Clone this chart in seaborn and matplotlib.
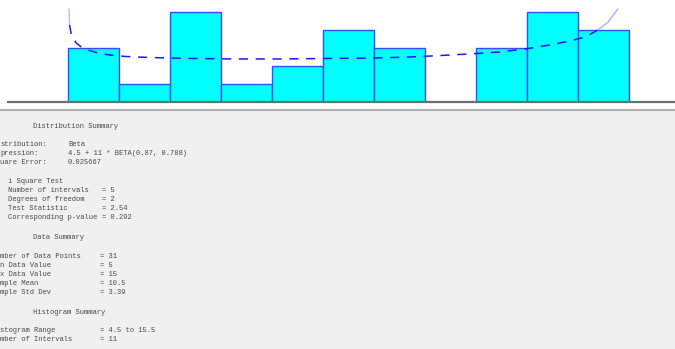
import numpy as np
import matplotlib
matplotlib.use("Agg")
import matplotlib.pyplot as plt
import seaborn as sns

# Histogram data (value of each interval and its count)
bin_centers = [5, 6, 7, 8, 9, 10, 11, 12, 13, 14, 15]
counts = [3, 1, 5, 1, 2, 4, 3, 0, 3, 5, 4]
bin_edges = [4.5, 5.5, 6.5, 7.5, 8.5, 9.5, 10.5, 11.5, 12.5, 13.5, 14.5, 15.5]

# Fitted beta curve (in counts per interval)
curve_x = [4.52, 4.53, 4.56, 4.60, 4.66, 4.76, 4.89, 5.09, 5.32, 5.62, 6.11,
           6.89, 7.78, 8.66, 9.64, 10.42, 11.21, 11.79, 12.38, 12.97, 13.52,
           13.99, 14.34, 14.64, 14.89, 15.09, 15.28]
curve_y = [5.17, 4.28, 3.83, 3.56, 3.28, 3.06, 2.89, 2.72, 2.61, 2.53, 2.47,
           2.42, 2.39, 2.39, 2.42, 2.44, 2.50, 2.58, 2.67, 2.78, 2.97,
           3.19, 3.39, 3.61, 4.00, 4.44, 5.17]

# Summary text (left part is cut off in the original window)
summary_titles = ["Distribution Summary", "Data Summary", "Histogram Summary"]
dist_labels = ["stribution:", "pression:", "uare Error:"]
dist_values = ["Beta", "4.5 + 11 * BETA(0.87, 0.788)", "0.025667"]
chi_title = "i Square Test"
chi_labels = ["Number of intervals", "Degrees of freedom", "Test Statistic",
              "Corresponding p-value"]
chi_values = ["= 5", "= 2", "= 2.54", "= 0.292"]
data_labels = ["mber of Data Points", "n Data Value", "x Data Value",
               "mple Mean", "mple Std Dev"]
data_values = ["= 31", "= 5", "= 15", "= 10.5", "= 3.39"]
hist_labels = ["stogram Range", "mber of Intervals"]
hist_values = ["= 4.5 to 15.5", "= 11"]

sns.set_style("white")
W, H = 675, 349
fig = plt.figure(figsize=(W / 100, H / 100), dpi=100)
fig.patch.set_facecolor("white")

# ---- histogram part ----
ax = fig.add_axes([8 / W, 1 - 102 / H, 667 / W, 102 / H])
sns.histplot(x=bin_centers, weights=counts, bins=bin_edges, ax=ax,
             color="#00ffff", alpha=1, edgecolor="#3a4cff", linewidth=1)

# faded ends of the curve, then the dashed main part
ax.plot(curve_x[:2], curve_y[:2], color="#b8b8ff", lw=1, zorder=3)
ax.plot(curve_x[-3:], curve_y[-3:], color="#b8b8ff", lw=1.2, zorder=3)
sns.lineplot(x=curve_x[1:-2], y=curve_y[1:-2], ax=ax, color="#1a1aff",
             lw=1.1, linestyle=(0, (6, 5)), sort=False, zorder=4)

ax.set_xlim(4.5 - 60 / 51, 4.5 - 60 / 51 + 667 / 51)
ax.set_ylim(0, 102 / 18)
ax.set_xticks([])
ax.set_yticks([])
ax.set_xlabel("")
ax.set_ylabel("")
for s in ["top", "left", "right"]:
    ax.spines[s].set_visible(False)
ax.spines["bottom"].set_color("#6e6e6e")
ax.spines["bottom"].set_linewidth(1.6)

# ---- text panel ----
top = 110
panel = fig.add_axes([0, 0, 1, (H - top) / H])
panel.set_facecolor("#f0f0f0")
panel.set_xlim(0, W)
panel.set_ylim(H, top)
panel.set_xticks([])
panel.set_yticks([])
for s in ["bottom", "left", "right"]:
    panel.spines[s].set_visible(False)
panel.spines["top"].set_color("#b0b0b0")
panel.spines["top"].set_linewidth(1.5)

txt = dict(fontsize=5.1, family="Liberation Mono", color="#4a4a4a", va="center")


def write(x, y, s):
    panel.text(x, y, s, **txt)


write(33, 127, summary_titles[0])
for i, (lab, val) in enumerate(zip(dist_labels, dist_values)):
    write(0, 145 + 9 * i, lab)
    write(68, 145 + 9 * i, val)

write(8, 182, chi_title)
for i, (lab, val) in enumerate(zip(chi_labels, chi_values)):
    write(8, 191 + 9 * i, lab)
    write(102, 191 + 9 * i, val)

write(33, 238, summary_titles[1])
for i, (lab, val) in enumerate(zip(data_labels, data_values)):
    write(0, 257 + 9 * i, lab)
    write(100, 257 + 9 * i, val)

write(33, 313, summary_titles[2])
for i, (lab, val) in enumerate(zip(hist_labels, hist_values)):
    write(0, 331 + 9 * i, lab)
    write(100, 331 + 9 * i, val)

fig.savefig("out.png", dpi=100)
